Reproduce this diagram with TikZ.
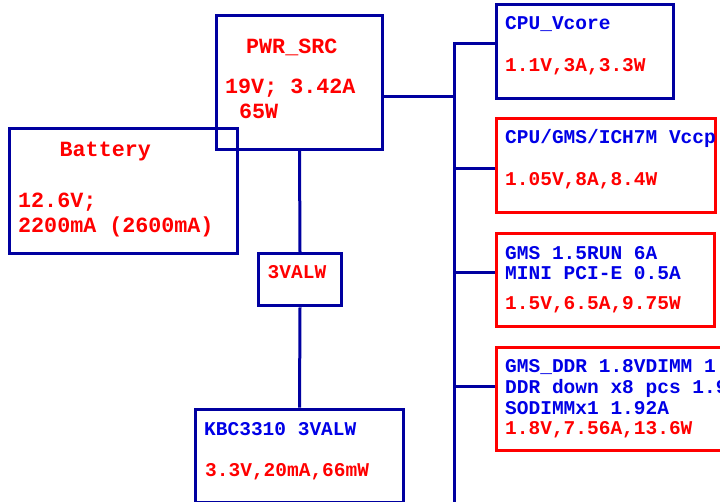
\documentclass[tikz,border=0pt]{standalone}
\usepackage{fontspec}
\setmainfont{Liberation Mono}
\definecolor{lineblue}{RGB}{0,0,160}
\definecolor{txtblue}{RGB}{0,0,230}
\definecolor{txtred}{RGB}{255,0,0}
\begin{document}
\begin{tikzpicture}[x=1pt,y=-1pt,
  box/.style={draw=lineblue,line width=3pt,rectangle,inner sep=0pt,anchor=north west},
  redbox/.style={box,draw=txtred},
  wire/.style={draw=lineblue,line width=3pt},
  big/.style={inner sep=0pt,anchor=base west,font=\bfseries\fontsize{21.7}{24}\selectfont},
  small/.style={inner sep=0pt,anchor=base west,font=\bfseries\fontsize{19.5}{20.5}\selectfont},
  rt/.style={text=txtred},
  bt/.style={text=txtblue}]
\useasboundingbox (0,0) rectangle (720,502);
\clip (0,0) rectangle (720,502);
% boxes
\node[box,minimum width=166,minimum height=134] (pwr) at (215,14) {};
\node[box,minimum width=228,minimum height=125] (bat) at (8,127) {};
\node[box,minimum width=83.6,minimum height=52] (v3) at (256.7,252.3) {};
\node[box,minimum width=208,minimum height=93] (kbc) at (194,407.7) {};
\node[box,minimum width=177,minimum height=94] (vcore) at (495,3.3) {};
\node[redbox,minimum width=219,minimum height=94] (vccp) at (495,117) {};
\node[redbox,minimum width=218,minimum height=93.3] (gms) at (495,231.7) {};
\node[redbox,minimum width=260,minimum height=103.3] (ddr) at (495,346) {};
% wires
\draw[wire] (pwr.south) -- (v3.north);
\draw[wire] (v3.south) -- (kbc.north);
\coordinate (bt) at (454,44);
\coordinate (bb) at (454,505);
\coordinate (j) at (454,97);
\coordinate (b2) at (454,169);
\coordinate (b3) at (454,273);
\coordinate (b4) at (454,386.7);
\draw[wire] (vcore.west |- bt) -- (bt) -- (bb);
\draw[wire] (pwr.east |- j) -- (j);
\draw[wire] (b2) -- (vccp.west |- b2);
\draw[wire] (b3) -- (gms.west |- b3);
\draw[wire] (b4) -- (ddr.west |- b4);
% texts
\node[big,rt] (t1) at (246,53.3) {PWR\_SRC};
\node[big,rt] (t2) at (225,94) {19V; 3.42A};
\node[big,rt] (t3) at (239,119) {65W};
\node[big,rt] (t4) at (59.5,156.7) {Battery};
\node[big,rt] (t5) at (18,208) {12.6V;};
\node[big,rt] (t6) at (18,232.7) {2200mA (2600mA)};
\node[small,rt] (t7) at (267.5,279) {3VALW};
\node[small,bt] (t8) at (204,435) {KBC3310 3VALW};
\node[small,rt] (t9) at (205,476) {3.3V,20mA,66mW};
\node[small,bt] (t10) at (505,30) {CPU\_Vcore};
\node[small,rt] (t11) at (505,71.7) {1.1V,3A,3.3W};
\node[small,bt] (t12) at (505,144) {CPU/GMS/ICH7M Vccp};
\node[small,rt] (t13) at (505,186) {1.05V,8A,8.4W};
\node[small,bt] (t14) at (505,259.3) {GMS 1.5RUN 6A};
\node[small,bt] (t15) at (505,279.3) {MINI PCI-E 0.5A};
\node[small,rt] (t16) at (505,309.3) {1.5V,6.5A,9.75W};
\node[small,bt] (t17) at (505,372.7) {GMS\_DDR 1.8VDIMM 1.};
\node[small,bt] (t18) at (505,393.3) {DDR down x8 pcs 1.9};
\node[small,bt] (t19) at (505,414.3) {SODIMMx1 1.92A};
\node[small,rt] (t20) at (505,434.3) {1.8V,7.56A,13.6W};
\end{tikzpicture}
\end{document}
